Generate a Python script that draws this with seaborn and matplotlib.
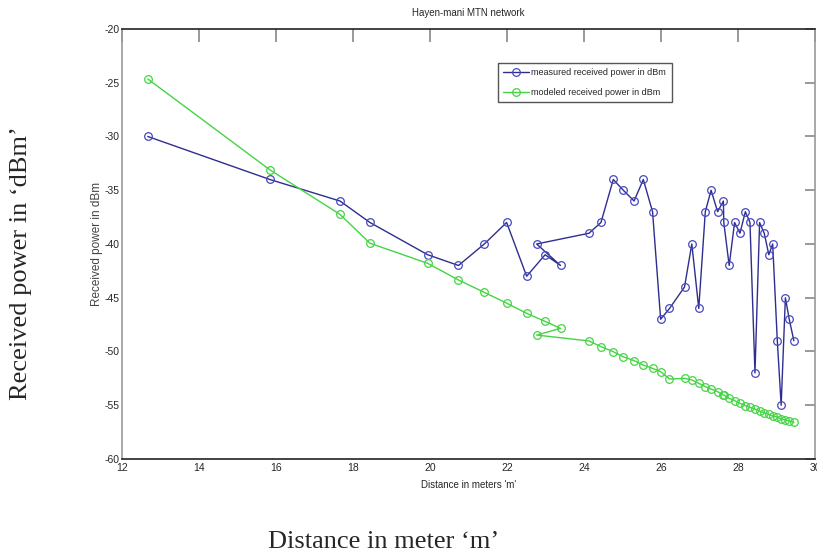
import matplotlib
matplotlib.use('Agg')
import matplotlib.pyplot as plt
import seaborn as sns
import pandas as pd

# distances (m) in the order they were recorded
distance = [12.67, 15.84, 17.66, 18.44, 19.94, 20.74, 21.41, 21.99, 22.51, 22.99,
            23.39, 22.77, 24.13, 24.44, 24.76, 25.02, 25.30, 25.54, 25.78, 25.99,
            26.22, 26.61, 26.80, 26.98, 27.15, 27.30, 27.47, 27.62, 27.63, 27.77,
            27.91, 28.05, 28.19, 28.31, 28.44, 28.56, 28.68, 28.80, 28.90, 29.02,
            29.12, 29.23, 29.33, 29.45]

measured = [-30, -34, -36, -38, -41, -42, -40, -38, -43, -41,
            -42, -40, -39, -38, -34, -35, -36, -34, -37, -47,
            -46, -44, -40, -46, -37, -35, -37, -36, -38, -42,
            -38, -39, -37, -38, -52, -38, -39, -41, -40, -49,
            -55, -45, -47, -49]

modeled = [-24.65, -33.1, -37.24, -39.93, -41.8, -43.35, -44.5, -45.5, -46.45, -47.2,
           -47.85, -48.47, -49.02, -49.55, -50.02, -50.5, -50.85, -51.26, -51.57, -51.88,
           -52.56, -52.5, -52.65, -52.96, -53.27, -53.49, -53.74, -54.05, -54.05, -54.36,
           -54.57, -54.82, -55.04, -55.2, -55.35, -55.53, -55.7, -55.85, -56.0, -56.1,
           -56.28, -56.37, -56.47, -56.59]

df = pd.DataFrame({'distance': distance, 'measured': measured, 'modeled': modeled})

sns.set_style('white')
plt.rcParams['font.family'] = ['Liberation Sans Narrow', 'Liberation Sans', 'DejaVu Sans']
plt.rcParams['axes.unicode_minus'] = False

fig = plt.figure(figsize=(8.17, 5.53), dpi=100)
ax = fig.add_axes([0.1493, 0.17, 0.8483, 0.7776])

blue = '#2e2e8f'
green = '#44d444'
sns.lineplot(data=df, x='distance', y='measured', sort=False, ax=ax, color=blue,
             lw=1.0, marker='o', markersize=5.5, markerfacecolor='none',
             markeredgecolor='#4848c0', markeredgewidth=0.9,
             label='measured received power in dBm')
sns.lineplot(data=df, x='distance', y='modeled', sort=False, ax=ax, color=green,
             lw=1.0, marker='o', markersize=5.5, markerfacecolor='none',
             markeredgecolor=green, markeredgewidth=0.9,
             label='modeled received power in dBm')

ax.set_xlim(12, 30)
ax.set_ylim(-60, -20)
ax.set_xticks(range(12, 31, 2))
ax.set_yticks(range(-60, -19, 5))
ax.tick_params(axis='x', direction='in', length=9, width=1.2, labelsize=7.5,
               color='#888888', top=True, pad=3)
ax.tick_params(axis='y', direction='in', length=7, width=1.2, labelsize=7.5,
               color='#888888', right=True, pad=2)
for name, sp in ax.spines.items():
    sp.set_linewidth(1.2)
    sp.set_color('#222222' if name in ('top', 'bottom') else '#999999')

ax.set_title('Hayen-mani MTN network', fontsize=7, pad=9)
ax.set_xlabel("Distance in meters 'm'", fontsize=7, labelpad=5)
ax.set_ylabel('Received power in dBm', fontsize=8.5, labelpad=1, color='#444444')

ax.legend(loc='upper left', bbox_to_anchor=(0.5426, 0.921), fontsize=6.5,
          frameon=True, fancybox=False, edgecolor='#555555', framealpha=1,
          handlelength=2.8, handletextpad=0.3, labelspacing=1.15,
          borderpad=0.6, borderaxespad=0)

fig.text(0.470, 0.009, 'Distance in meter \u2018m\u2019', fontsize=19,
         family='Liberation Serif', ha='center', va='baseline')
fig.text(0.0255, 0.524, 'Received power in \u2018dBm\u2019', fontsize=19,
         family='Liberation Serif', ha='center', va='center', rotation=90)

fig.savefig('out.png', dpi=100)
